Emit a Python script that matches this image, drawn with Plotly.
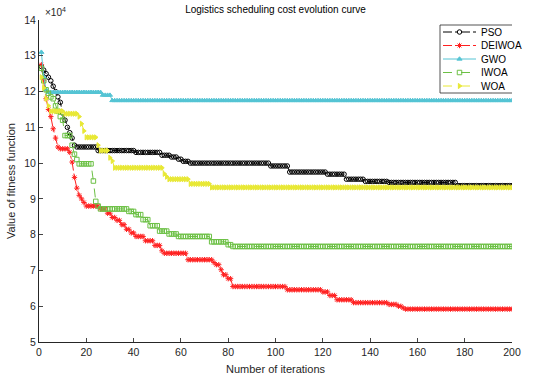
import plotly.graph_objects as go

iterations = list(range(1, 201))

PSO = ([12.7, 12.6, 12.5, 12.4, 12.3, 12.15, 12.0, 11.85, 11.7, 11.4, 11.2, 11.0, 10.85, 10.7, 10.5]
       + [10.45] * 9 + [10.35] * 16 + [10.3] * 11 + [10.22] * 4 + [10.17] * 3 + [10.11] * 2
       + [10.05] * 3 + [10.0] * 34 + [9.92] * 8 + [9.75] * 16 + [9.69] * 8 + [9.55] * 8
       + [9.49] * 10 + [9.46] * 29 + [9.37] * 24)

DEIWOA = ([12.75, 12.3, 11.8, 11.5, 11.3, 10.96, 10.7, 10.45] + [10.4] * 4
          + [10.3, 10.03, 9.6, 9.3, 9.1, 9.0, 8.9] + [8.8] * 6 + [8.72] * 3 + [8.6] * 2
          + [8.48] * 2 + [8.4] * 2 + [8.28] * 2 + [8.15] * 2 + [8.05] * 2 + [7.95] * 4
          + [7.83] * 4 + [7.7] * 3 + [7.55] + [7.48] * 10 + [7.3] * 11 + [7.22] + [7.16] * 2
          + [7.02] + [6.88] * 2 + [6.77] * 2 + [6.55] * 23 + [6.46] * 15 + [6.4] * 3
          + [6.3] * 3 + [6.18] * 7 + [6.1] * 15 + [6.05] * 4 + [6.0] * 2 + [5.95] + [5.92] * 46)

GWO = [13.1, 12.4, 12.05] + [11.98] * 23 + [11.9] * 4 + [11.75] * 170

IWOA = ([12.65, 12.3, 12.05, 11.95, 11.85, 11.8, 11.6, 11.45, 11.3, 11.2] + [10.77] * 3
        + [10.5, 10.25, 10.1] + [9.98] * 6 + [9.5, 8.93, 8.8] + [8.72] * 12 + [8.65] * 3
        + [8.56] * 3 + [8.42] * 3 + [8.25] * 4 + [8.1] * 4 + [8.02] * 4 + [7.95] * 14
        + [7.8] * 7 + [7.72] * 2 + [7.67] * 119)

WOA = ([12.4, 12.1, 11.8, 11.6] + [11.45] * 6 + [11.38] * 6 + [11.3, 11.1, 10.9]
       + [10.72] * 5 + [10.5] + [10.35] * 4 + [10.15, 10.06] + [9.87] * 21 + [9.7, 9.62]
       + [9.55] * 9 + [9.42] * 9 + [9.32] * 128)

names = ["PSO", "DEIWOA", "GWO", "IWOA", "WOA"]
values = [PSO, DEIWOA, GWO, IWOA, WOA]
colors = ["#000000", "#ff2020", "#55c4d4", "#6cc045", "#e8e835"]
dashes = ["dashdot", "dashdot", "solid", "dash", "dash"]
symbols = ["circle-open", "asterisk-open", "triangle-up", "square-open", "triangle-right"]

fig = go.Figure()
for name, vals, color, dash, sym in zip(names, values, colors, dashes, symbols):
    fig.add_trace(go.Scatter(
        x=iterations, y=vals, name=name, mode="lines+markers", showlegend=False,
        line=dict(color=color, width=1, dash=dash),
        marker=dict(symbol=sym, size=4.5, color=color, line=dict(color=color, width=1)),
    ))

# ---- custom compact legend (overlay axes in pixel units of the plot area) ----
L_X0, L_X1, L_Y0, L_Y1 = 440, 522, 25, 93
row_y = [32, 45.5, 59, 72.5, 86]
fig.add_trace(go.Scatter(
    x=[L_X0, L_X1, L_X1, L_X0, L_X0], y=[L_Y0, L_Y0, L_Y1, L_Y1, L_Y0],
    xaxis="x2", yaxis="y2", mode="lines", fill="toself", fillcolor="white",
    line=dict(color="#262626", width=0.8), showlegend=False, hoverinfo="skip"))
for name, color, dash, sym, ry in zip(names, colors, dashes, symbols, row_y):
    fig.add_trace(go.Scatter(
        x=[443, 476], y=[ry, ry], xaxis="x2", yaxis="y2", mode="lines",
        line=dict(color=color, width=1, dash=dash), showlegend=False, hoverinfo="skip"))
    fig.add_trace(go.Scatter(
        x=[459.5], y=[ry], xaxis="x2", yaxis="y2", mode="markers",
        marker=dict(symbol=sym, size=4.5, color=color, line=dict(color=color, width=1)),
        showlegend=False, hoverinfo="skip"))
    fig.add_annotation(xref="x2", yref="y2", x=479, y=ry, text=name, showarrow=False,
                       xanchor="left", yanchor="middle",
                       font=dict(size=10, color="#000000"))

font = "Liberation Sans, Arial, sans-serif"
fig.update_layout(
    width=535, height=381,
    margin=dict(l=39, r=23, t=20, b=39),
    plot_bgcolor="white", paper_bgcolor="white",
    font=dict(family=font, size=10, color="#262626"),
    title=dict(text="Logistics scheduling cost evolution curve", x=0.515, xanchor="center",
               y=0.974, yanchor="middle", font=dict(size=10, color="#000000")),
    xaxis=dict(range=[0, 200], tickvals=list(range(0, 201, 20)), ticks="inside", ticklen=4,
               showline=True, linecolor="#262626", linewidth=1, showgrid=False, zeroline=False,
               automargin=False,
               title=dict(text="Number of iterations", font=dict(size=11), standoff=8),
               tickfont=dict(size=10.5)),
    yaxis=dict(range=[5, 14], tickvals=list(range(5, 15)), ticks="inside", ticklen=4,
               showline=True, linecolor="#262626", linewidth=1, showgrid=False, zeroline=False,
               automargin=False,
               title=dict(text="Value of fitness function", font=dict(size=11), standoff=6),
               tickfont=dict(size=10.5)),
    xaxis2=dict(overlaying="x", range=[39, 512], visible=False, fixedrange=True),
    yaxis2=dict(overlaying="y", range=[342, 20], visible=False, fixedrange=True),
    showlegend=False,
)
fig.add_annotation(xref="paper", yref="paper", x=0.0, y=1.0, xanchor="left", yanchor="bottom",
                   text="×10<sup>4</sup>", showarrow=False, font=dict(size=10, color="#262626"),
                   xshift=4, yshift=0)
fig.write_html("out.html", post_script="document.body.style.margin='0px';",
               config={"displayModeBar": False})
